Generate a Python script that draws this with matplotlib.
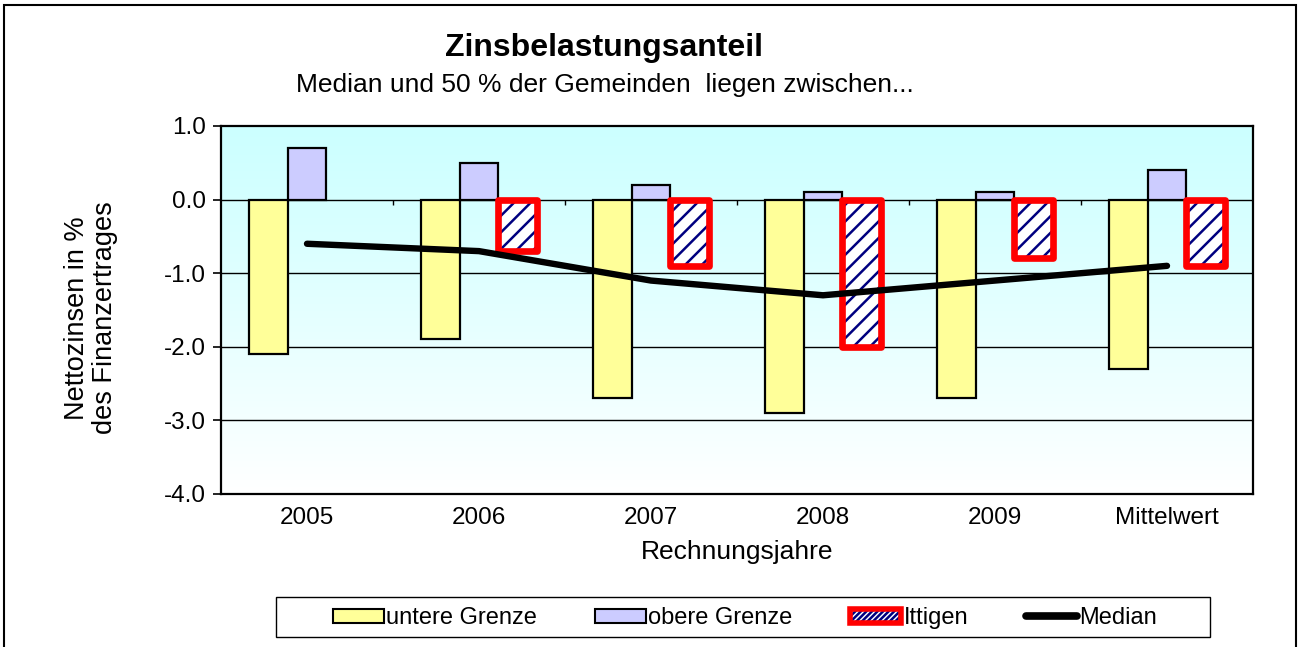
# -*- coding: utf-8 -*-
"""
Zinsbelastungsanteil - grouped bars with median line
"""

# %% load libraries
import numpy as np
import matplotlib.pyplot as plt
import matplotlib.patches as mpatches
import matplotlib.lines as mlines

plt.rcParams['font.family'] = ['Liberation Sans', 'DejaVu Sans']
plt.rcParams['hatch.linewidth'] = 1.8

# %% data
categories = ['2005', '2006', '2007', '2008', '2009', 'Mittelwert']
untere_grenze = [-2.1, -1.9, -2.7, -2.9, -2.7, -2.3]
obere_grenze = [0.7, 0.5, 0.2, 0.1, 0.1, 0.4]
ittigen = [np.nan, -0.7, -0.9, -2.0, -0.8, -0.9]
median = [-0.6, -0.7, -1.1, -1.3, -1.1, -0.9]
y_ticks = [1.0, 0.0, -1.0, -2.0, -3.0, -4.0]

# %% styles
c_unten = '#FFFF99'
c_oben = '#CCCCFF'
c_hatch = '#000080'
w = 0.225
W, H = 1301, 647

# %% figure
fig = plt.figure(figsize=(W / 100, H / 100), dpi=100)
ax = fig.add_axes([221 / W, 1 - 494 / H, 1032 / W, 368 / H])

x = np.arange(len(categories))

# gradient background (cyan -> white)
grad = np.linspace(0, 1, 256).reshape(-1, 1)
top = np.array([0xCC, 0xFF, 0xFF]) / 255
bot = np.array([1.0, 1.0, 1.0])
img = top + (bot - top) * grad[:, :, None] ** 1.1
ax.imshow(img, extent=[0, 1, 0, 1], transform=ax.transAxes,
          aspect='auto', zorder=0, origin='upper')

# grid lines
for yv in y_ticks[1:-1]:
    ax.axhline(yv, color='black', linewidth=1.0, zorder=1)

# small tick marks on the zero line between categories
ax.vlines(x[:-1] + 0.5, -0.08, 0, color='black', linewidth=1.0, zorder=1)

# bars
ax.bar(x - w, untere_grenze, width=w, color=c_unten,
       edgecolor='black', linewidth=1.6, zorder=2)
ax.bar(x, obere_grenze, width=w, color=c_oben,
       edgecolor='black', linewidth=1.6, zorder=2)

it = np.array(ittigen)
mask = ~np.isnan(it)
ax.bar(x[mask] + w, it[mask], width=w, color='white', hatch='//',
       edgecolor=c_hatch, linewidth=0, zorder=3)
ax.bar(x[mask] + w, it[mask], width=w, fill=False,
       edgecolor='#FF0000', linewidth=4.8, joinstyle='round', zorder=3)

# median line
ax.plot(x, median, color='black', linewidth=4.6,
        solid_capstyle='round', solid_joinstyle='round', zorder=4)

# axes
ax.set_xlim(-0.5, len(categories) - 0.5)
ax.set_ylim(-4.0, 1.0)
ax.set_yticks(y_ticks)
ax.set_yticklabels(['%.1f' % v for v in y_ticks], fontsize=17.5)
ax.set_xticks(x)
ax.set_xticklabels(categories, fontsize=17.5)
ax.tick_params(axis='x', length=0, pad=9)
ax.tick_params(axis='y', length=6, width=1.2, pad=5)
for s in ax.spines.values():
    s.set_linewidth(1.6)
    s.set_zorder(5)
ax.set_xlabel('Rechnungsjahre', fontsize=19, labelpad=8)

# y label (two lines)
fig.text(91 / W, 1 - 318 / H, 'Nettozinsen in %\ndes Finanzertrages',
         rotation=90, ha='center', va='center', fontsize=19.5,
         multialignment='center', linespacing=1.1)

# titles
fig.text(604 / W, 1 - 48 / H, 'Zinsbelastungsanteil',
         ha='center', va='center', fontsize=23, fontweight='bold')
fig.text(605 / W, 1 - 85 / H,
         'Median und 50 % der Gemeinden  liegen zwischen...',
         ha='center', va='center', fontsize=19)

# legend
h1 = mpatches.Patch(facecolor=c_unten, edgecolor='black', linewidth=1.5)
h2 = mpatches.Patch(facecolor=c_oben, edgecolor='black', linewidth=1.5)
h3a = mpatches.Patch(facecolor='white', hatch='//////', edgecolor=c_hatch,
                     linewidth=0)
h3b = mpatches.Patch(facecolor='none', edgecolor='#FF0000', linewidth=4.0,
                     joinstyle='round')
h4 = mlines.Line2D([], [], color='black', linewidth=5.5, solid_capstyle='round')
leg = fig.legend([h1, h2, (h3a, h3b), h4],
                 ['untere Grenze', 'obere Grenze', 'Ittigen', 'Median'],
                 loc='center', bbox_to_anchor=(745 / W, 1 - 618 / H),
                 ncol=4, fontsize=17, frameon=False,
                 handlelength=2.15, handleheight=0.55,
                 handletextpad=0.1, columnspacing=2.45)

# legend frame
fig.patches.append(mpatches.Rectangle((276 / W, 1 - 637 / H), 934 / W,
                                      40 / H, transform=fig.transFigure,
                                      fill=False, edgecolor='black',
                                      linewidth=1.0))

# outer frame
fig.patches.append(mpatches.Rectangle((4 / W, -0.02), 1292 / W,
                                      1 - 5 / H + 0.02,
                                      transform=fig.transFigure,
                                      fill=False, edgecolor='black',
                                      linewidth=1.5))

# save figure
plt.savefig('out.png', dpi=100)
